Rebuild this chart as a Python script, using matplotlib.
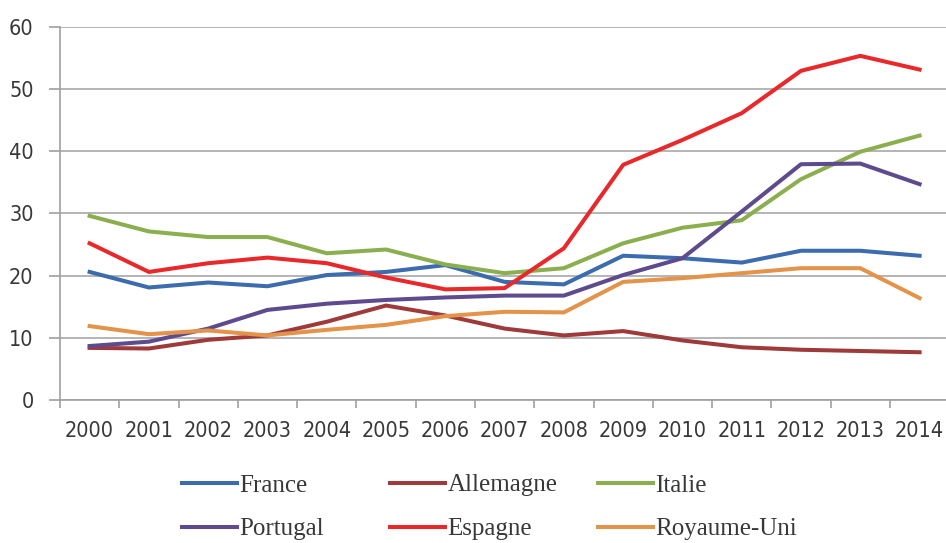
import matplotlib
matplotlib.use('Agg')
import matplotlib.pyplot as plt
from matplotlib import font_manager
import numpy as np

years = [str(y) for y in range(2000, 2015)]
france = [20.6, 18.1, 18.9, 18.3, 20.1, 20.6, 21.7, 19.0, 18.6, 23.2, 22.8, 22.1, 24.0, 24.0, 23.2]
allemagne = [8.4, 8.3, 9.7, 10.4, 12.6, 15.2, 13.6, 11.5, 10.4, 11.1, 9.6, 8.5, 8.1, 7.9, 7.7]
italie = [29.6, 27.1, 26.2, 26.2, 23.6, 24.2, 21.8, 20.4, 21.2, 25.2, 27.7, 28.9, 35.5, 39.9, 42.5]
portugal = [8.7, 9.4, 11.5, 14.5, 15.5, 16.1, 16.5, 16.8, 16.8, 20.1, 22.8, 30.3, 37.9, 38.0, 34.7]
espagne = [25.2, 20.6, 22.0, 22.9, 22.0, 19.7, 17.8, 18.0, 24.4, 37.8, 41.8, 46.1, 52.9, 55.3, 53.1]
royaume_uni = [11.9, 10.6, 11.2, 10.4, 11.3, 12.1, 13.5, 14.2, 14.1, 19.0, 19.6, 20.4, 21.2, 21.2, 16.4]

series = [
    ('France', france, '#3c6cae'),
    ('Allemagne', allemagne, '#9e3a3a'),
    ('Italie', italie, '#8baf4e'),
    ('Portugal', portugal, '#5e4a8e'),
    ('Espagne', espagne, '#e8282a'),
    ('Royaume-Uni', royaume_uni, '#e3934a'),
]

# narrow sans for the tick labels if one is around, else Roboto
tick_prop = dict(family='Roboto', size=14.5)
for fam, stretch in [('Liberation Sans Narrow', 'normal'), ('DejaVu Sans', 'condensed')]:
    fp = font_manager.FontProperties(family=fam, stretch=stretch)
    try:
        path = font_manager.findfont(fp, fallback_to_default=False)
    except Exception:
        path = ''
    if 'Narrow' in path or 'Condensed' in path:
        tick_prop = dict(family=fam, stretch=stretch, size=15.5)
        break

legend_font = ['Liberation Serif', 'DejaVu Serif']

fig = plt.figure(figsize=(9.46, 5.43), dpi=100)
ax = fig.add_axes([0.0634, 0.263, 0.940, 0.688])

x = np.arange(len(years))
lines = {}
for name, vals, col in series:
    lines[name], = ax.plot(x, vals, color=col, lw=2.9, solid_joinstyle='round', label=name)

ax.set_xlim(-0.5, len(years) - 0.5)
ax.set_ylim(0, 60)
ax.set_yticks(range(0, 61, 10))
ax.set_xticks(x)
ax.set_xticklabels(years)
ax.set_xticks(np.arange(-0.5, len(years), 1), minor=True)
ax.tick_params(axis='x', which='major', length=0, pad=15, labelcolor='#383838')
ax.tick_params(axis='x', which='minor', length=6, color='#a0a0a0', width=1.2, direction='out')
ax.tick_params(axis='y', length=8, color='#a0a0a0', width=1.2, pad=11, labelcolor='#383838')
for lab in ax.get_xticklabels() + ax.get_yticklabels():
    lab.set_fontproperties(font_manager.FontProperties(**tick_prop))

ax.grid(axis='y', color='#a8a8a8', lw=1.2)
ax.set_axisbelow(True)
for s in ['top', 'right']:
    ax.spines[s].set_visible(False)
for s in ['left', 'bottom']:
    ax.spines[s].set_color('#a0a0a0')
    ax.spines[s].set_linewidth(1.2)

# legend: three columns of two entries each
col_x = [182 / 946, 390 / 946, 598 / 946]
for i, cx in enumerate(col_x):
    names = [series[i][0], series[i + 3][0]]
    leg = fig.legend([lines[n] for n in names], names, loc='upper left',
                     bbox_to_anchor=(cx, 1 - 474 / 543), frameon=False,
                     handlelength=2.2, handletextpad=0.1, labelspacing=0.85,
                     borderpad=0, borderaxespad=0,
                     prop={'family': legend_font, 'size': 18})
    for t in leg.get_texts():
        t.set_color('#383838')

fig.savefig('out.png', dpi=100)
